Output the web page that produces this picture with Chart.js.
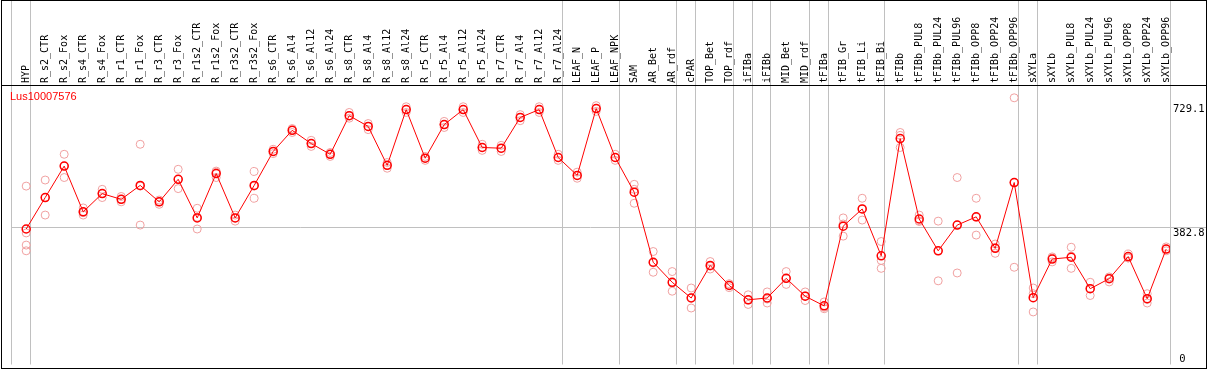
<!DOCTYPE html>
<html>
<head>
<meta charset="utf-8">
<script src="https://cdn.jsdelivr.net/npm/chart.js@4"></script>
<style>
  html, body { margin: 0; padding: 0; background: #fff; }
  #wrap { position: relative; width: 1209px; height: 370px; }
  #frame { position: absolute; left: 1px; top: 0; width: 1204px; height: 367px; border: 1px solid #000; pointer-events: none; }
  #rule { position: absolute; left: 1px; top: 85px; width: 1206px; height: 1px; background: #000; pointer-events: none; }
  #gene { position: absolute; left: 10px; top: 90px; color: #f00; font: 11px "Liberation Sans", sans-serif; }
</style>
</head>
<body>
<div id="wrap">
  <canvas id="expr" width="1209" height="370"></canvas>
  <div id="frame"></div>
  <div id="rule"></div>
  <div id="gene">Lus10007576</div>
</div>
<script>
// ----- Data -----
const categories = [
  'HYP', 'R_s2_CTR', 'R_s2_Fox', 'R_s4_CTR', 'R_s4_Fox', 'R_r1_CTR', 'R_r1_Fox',
  'R_r3_CTR', 'R_r3_Fox', 'R_r1s2_CTR', 'R_r1s2_Fox', 'R_r3s2_CTR', 'R_r3s2_Fox',
  'R_s6_CTR', 'R_s6_Al4', 'R_s6_Al12', 'R_s6_Al24', 'R_s8_CTR', 'R_s8_Al4',
  'R_s8_Al12', 'R_s8_Al24', 'R_r5_CTR', 'R_r5_Al4', 'R_r5_Al12', 'R_r5_Al24',
  'R_r7_CTR', 'R_r7_Al4', 'R_r7_Al12', 'R_r7_Al24', 'LEAF_N', 'LEAF_P', 'LEAF_NPK',
  'SAM', 'AR_Bet', 'AR_rdf', 'cPAR', 'TOP_Bet', 'TOP_rdf', 'iFIBa', 'iFIBb',
  'MID_Bet', 'MID_rdf', 'tFIBa', 'tFIB_Gr', 'tFIB_Li', 'tFIB_Bi', 'tFIBb',
  'tFIBb_PUL8', 'tFIBb_PUL24', 'tFIBb_PUL96', 'tFIBb_OPP8', 'tFIBb_OPP24', 'tFIBb_OPP96',
  'sXYLa', 'sXYLb', 'sXYLb_PUL8', 'sXYLb_PUL24', 'sXYLb_PUL96', 'sXYLb_OPP8',
  'sXYLb_OPP24', 'sXYLb_OPP96'
];

// mean expression per sample (the red line)
const means = [
  379, 467, 555, 427, 478, 462, 501, 455, 518, 410, 534, 410, 501,
  596, 655, 618, 588, 696, 666, 557, 713, 577, 671, 713, 607,
  605, 691, 713, 579, 529, 716, 579,
  482, 286, 230, 186, 277, 221, 181, 186, 241, 191, 164,
  387, 435, 304, 632, 407, 318, 390, 413, 325, 509,
  187, 295, 300, 212, 240, 302, 184, 323
];

// individual replicates (light circles)
const replicates = [
  [499, 368, 334, 318], [516, 467, 418], [588, 555, 523], [438, 425, 418],
  [490, 478, 467], [470, 462, 455], [616, 499, 390], [460, 455, 448],
  [546, 518, 492], [437, 412, 379], [541, 538, 523], [418, 410, 401],
  [540, 499, 465], [602, 596, 590], [660, 655, 649], [627, 618, 610],
  [593, 588, 582], [705, 696, 689], [674, 666, 657], [565, 557, 549],
  [721, 713, 705], [582, 577, 571], [680, 671, 663], [721, 713, 705],
  [616, 607, 599], [613, 604, 596], [699, 691, 682], [721, 713, 705],
  [588, 579, 571], [538, 529, 521], [724, 716, 708], [588, 579, 571],
  [504, 490, 451], [316, 284, 258], [260, 228, 205], [214, 187, 158],
  [288, 275, 267], [226, 222, 215], [195, 180, 168], [203, 183, 172],
  [260, 241, 224], [203, 192, 179], [175, 160, 156], [410, 393, 359],
  [465, 435, 404], [344, 291, 269], [649, 641, 607], [418, 402, 400],
  [401, 318, 234], [523, 390, 256], [465, 412, 362], [337, 327, 311],
  [746, 509, 272], [214, 198, 147], [301, 298, 287], [328, 303, 269],
  [230, 212, 193], [245, 242, 231], [309, 298, 298], [198, 182, 172],
  [329, 323, 318]
];

// sample slots where a tissue group starts / ends (grey separators)
const groupBreaks = [0, 1, 29, 32, 35, 36, 38, 39, 40, 42, 43, 46, 53, 54, 61];

// right-hand axis ticks
const yTicks = [0, 382.8, 729.1];

// ----- Build datasets -----
const SLOT = 0.8; // points sit this far into their slot
const meanPts = means.map((v, i) => ({ x: i, y: v }));
const repPts = replicates.flatMap((reps, i) => reps.map(v => ({ x: i, y: v })));
const breakVals = groupBreaks.map(b => b - SLOT);

const GREY = '#c0c0c0';
const monoFont = { family: 'DejaVu Sans Mono', size: 10, lineHeight: 1.2 };

const isBreak = v => breakVals.some(b => Math.abs(b - v) < 1e-6);

new Chart(document.getElementById('expr'), {
  type: 'line',
  data: {
    datasets: [
      {
        label: 'mean',
        data: meanPts,
        order: 0,
        borderColor: '#ff0000',
        borderWidth: 1,
        pointRadius: 4,
        pointBorderWidth: 1.5,
        pointBorderColor: '#ff0000',
        pointBackgroundColor: 'rgba(0,0,0,0)',
        tension: 0,
        fill: false
      },
      {
        label: 'replicates',
        type: 'scatter',
        data: repPts,
        order: 1,
        showLine: false,
        pointRadius: 4,
        pointBorderWidth: 1,
        pointBorderColor: '#f0a0a0',
        pointBackgroundColor: 'rgba(0,0,0,0)'
      }
    ]
  },
  options: {
    responsive: false,
    animation: false,
    devicePixelRatio: 1,
    layout: { padding: { left: 11, right: 0, top: 0, bottom: 4 } },
    plugins: { legend: { display: false }, tooltip: { enabled: false } },
    scales: {
      x: {
        type: 'linear',
        position: 'top',
        min: -SLOT,
        max: categories.length - SLOT,
        afterBuildTicks: s => {
          s.ticks = categories.map((_, i) => ({ value: i }))
            .concat(breakVals.map(v => ({ value: v })));
        },
        afterFit: s => { s.height = 86; },
        border: { display: false },
        grid: {
          color: c => (c.tick && isBreak(c.tick.value)) ? GREY : 'rgba(0,0,0,0)',
          tickColor: c => (c.tick && isBreak(c.tick.value)) ? GREY : 'rgba(0,0,0,0)',
          tickLength: 86,
          lineWidth: 1
        },
        ticks: {
          autoSkip: false,
          minRotation: 90,
          maxRotation: 90,
          padding: -83,
          labelOffset: 12,
          font: monoFont,
          color: '#000',
          callback: v => Number.isInteger(v) ? categories[v] : ''
        }
      },
      y: {
        position: 'right',
        min: 0,
        max: 779,
        afterBuildTicks: s => { s.ticks = yTicks.map(v => ({ value: v })); },
        afterFit: s => { s.width = 39; },
        border: { display: false },
        grid: {
          color: c => (c.tick && c.tick.value === 382.8) ? GREY : 'rgba(0,0,0,0)',
          tickColor: c => (c.tick && c.tick.value === 382.8) ? GREY : 'rgba(0,0,0,0)',
          tickLength: 36,
          lineWidth: 1
        },
        ticks: {
          padding: -33,
          color: '#000',
          font: { family: 'DejaVu Sans Mono', size: 10.5, lineHeight: 1.0 },
          callback: v => v === 0 ? [' 0', ''] : ['', v.toFixed(1)]
        }
      }
    }
  }
});
</script>
</body>
</html>
